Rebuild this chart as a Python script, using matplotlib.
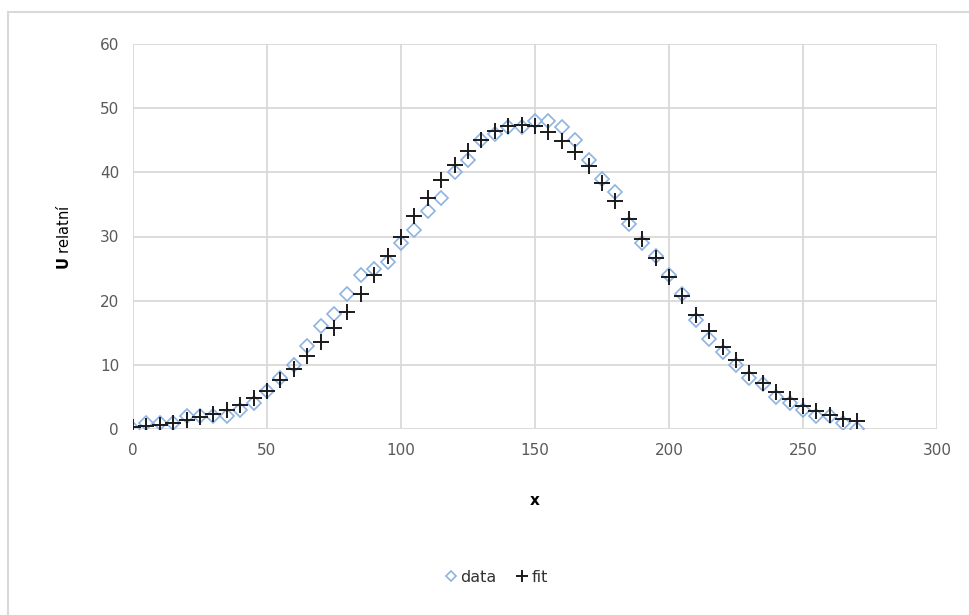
import matplotlib.pyplot as plt
from matplotlib.patches import Rectangle

x = list(range(0, 275, 5))

data = [0, 1, 1, 1, 2, 2, 2, 2, 3, 4,
        6, 8, 10, 13, 16, 18, 21, 24, 25, 26,
        29, 31, 34, 36, 40, 42, 45, 46, 47, 47,
        48, 48, 47, 45, 42, 39, 37, 32, 29, 27,
        24, 21, 17, 14, 12, 10, 8, 7, 5, 4,
        3, 2, 2, 1, 0]

fit = [0.3, 0.5, 0.7, 1.0, 1.4, 1.9, 2.4, 3.0, 3.8, 4.8,
       6.0, 7.6, 9.3, 11.3, 13.5, 15.8, 18.3, 21.0, 24.0, 27.0,
       30.0, 33.2, 36.0, 38.8, 41.2, 43.4, 45.0, 46.4, 47.2, 47.4,
       47.2, 46.3, 44.9, 43.2, 41.0, 38.4, 35.6, 32.7, 29.6, 26.7,
       23.7, 20.7, 17.8, 15.2, 12.8, 10.7, 8.8, 7.2, 5.8, 4.6,
       3.6, 2.8, 2.2, 1.6, 1.2]

grid_col = "#d9d9d9"
text_col = "#595959"

fig = plt.figure(figsize=(9.69, 6.15), dpi=100)
fig.patches.append(Rectangle((8 / 969, -0.1), 1.1, 1 - 12 / 615 + 0.1,
                             transform=fig.transFigure, fill=False,
                             edgecolor=grid_col, lw=1.5))

ax = fig.add_axes([133 / 969, 1 - 429 / 615, (937 - 133) / 969, (429 - 44) / 615])

ax.plot(x, data, ls="none", marker="D", ms=6.8, mfc="none", mec="#8db3e2",
        mew=1.2, label="data", zorder=3)
ax.plot(x, fit, ls="none", marker="+", ms=11, mec="#1a1a1a", mew=1.4,
        label="fit", zorder=4)

ax.set_xlim(0, 300)
ax.set_ylim(0, 60)
ax.set_xticks(range(0, 301, 50))
ax.set_yticks(range(0, 61, 10))
ax.grid(True, color=grid_col, lw=1.3)
ax.set_axisbelow(True)
for s in ax.spines.values():
    s.set_visible(False)
ax.tick_params(length=0, labelsize=11, colors=text_col, pad=10)

ax.set_xlabel("x", fontsize=11, fontweight="bold", labelpad=25)
ax.set_ylabel(r"$\mathbf{U}$ relatní", fontsize=10.5, labelpad=20)

ax.legend(loc="center", bbox_to_anchor=(0.452, -0.385), ncol=2, frameon=False,
          fontsize=11.5, handletextpad=0.2, columnspacing=1.2, markerscale=0.75,
          handlelength=0.8, labelcolor="#333333")

fig.savefig("out.png", dpi=100)
